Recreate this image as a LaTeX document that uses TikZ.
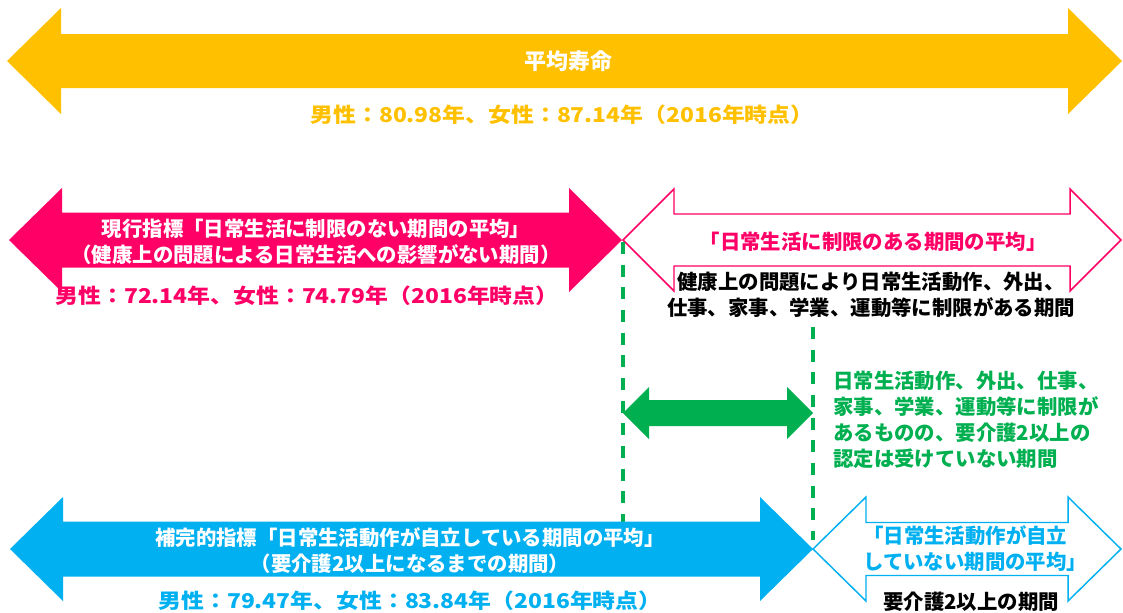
\documentclass[tikz,border=0pt]{standalone}
\usepackage{fontspec}
\setmainfont{Noto Sans CJK JP}
\definecolor{cyel}{HTML}{FFC000}
\definecolor{cmag}{HTML}{FF0066}
\definecolor{cgrn}{HTML}{00B050}
\definecolor{cblu}{HTML}{00B0F0}
\newcommand{\DArrow}[7]{%
 \path[#1] (#2,#4) -- (#2+#7,#4-#5) -- (#2+#7,#4-#6) -- (#3-#7,#4-#6) -- (#3-#7,#4-#5) -- (#3,#4)
   -- (#3-#7,#4+#5) -- (#3-#7,#4+#6) -- (#2+#7,#4+#6) -- (#2+#7,#4+#5) -- cycle;}
\begin{document}
\begin{tikzpicture}[x=0.75pt,y=-0.75pt,
  txt/.style={inner sep=0pt,font=\fontsize{15.3}{19.5}\selectfont\bfseries},
  stat/.style={txt,xscale=1.12},
  filled/.style={fill=#1},
  outlined/.style={draw=#1,fill=white,line width=1.1pt,line join=miter},
  guide/.style={draw=cgrn,line width=2.3pt,dash pattern=on 9pt off 8pt}]
\useasboundingbox (0,0) rectangle (1123,612);
% guides
\coordinate (g1a) at (623,242);
\coordinate (g1b) at (623,540);
\coordinate (g2a) at (813,327);
\coordinate (g2b) at (813,540);
% arrows
\DArrow{filled=cyel}{7}{1122}{61}{53}{27}{54}
\DArrow{filled=cmag}{9}{622}{240}{52}{27.5}{53}
\DArrow{outlined=cmag}{623}{1121}{240}{51}{26}{51}
\draw[guide] (g1a) -- (g1b);
\draw[guide] (g2a) -- (g2b);
\DArrow{filled=cblu}{10}{813}{549}{52}{27.5}{53}
\DArrow{outlined=cblu}{813}{1121}{549}{52}{26.5}{53}
\DArrow{filled=cgrn}{623}{813}{413}{26}{13}{26}
% texts
\node[txt,font=\fontsize{16.5}{20}\selectfont\bfseries,text=white] (title) at (568,61) {平均寿命};
\node[stat,text=cyel] (ystat) at (562,115) {男性：80.98年、女性：87.14年（2016年時点）};
\node[txt,text=white,align=center] (mtxt) at (316,242) {現行指標「日常生活に制限のない期間の平均」\\（健康上の問題による日常生活への影響がない期間）};
\node[stat,text=cmag] (mstat) at (307,296) {男性：72.14年、女性：74.79年（2016年時点）};
\node[txt,text=cmag] (motxt) at (873,242) {「日常生活に制限のある期間の平均」};
\node[txt,text=black,align=center] (btxt) at (871,295) {健康上の問題により日常生活動作、外出、\\仕事、家事、学業、運動等に制限がある期間};
\node[txt,text=cgrn,align=left,anchor=west] (gtxt) at (833,420) {日常生活動作、外出、仕事、\\家事、学業、運動等に制限が\\あるものの、要介護2以上の\\認定は受けていない期間};
\node[txt,text=white,align=center] (btx) at (410,551) {補完的指標「日常生活動作が自立している期間の平均」\\（要介護2以上になるまでの期間）};
\node[stat,text=cblu] (bstat) at (410,601) {男性：79.47年、女性：83.84年（2016年時点）};
\node[txt,text=cblu,align=left,anchor=west] (botxt) at (863,549) {「日常生活動作が自立\\していない期間の平均」};
\node[txt,text=black] (kaigo) at (971,602) {要介護2以上の期間};
\end{tikzpicture}
\end{document}
